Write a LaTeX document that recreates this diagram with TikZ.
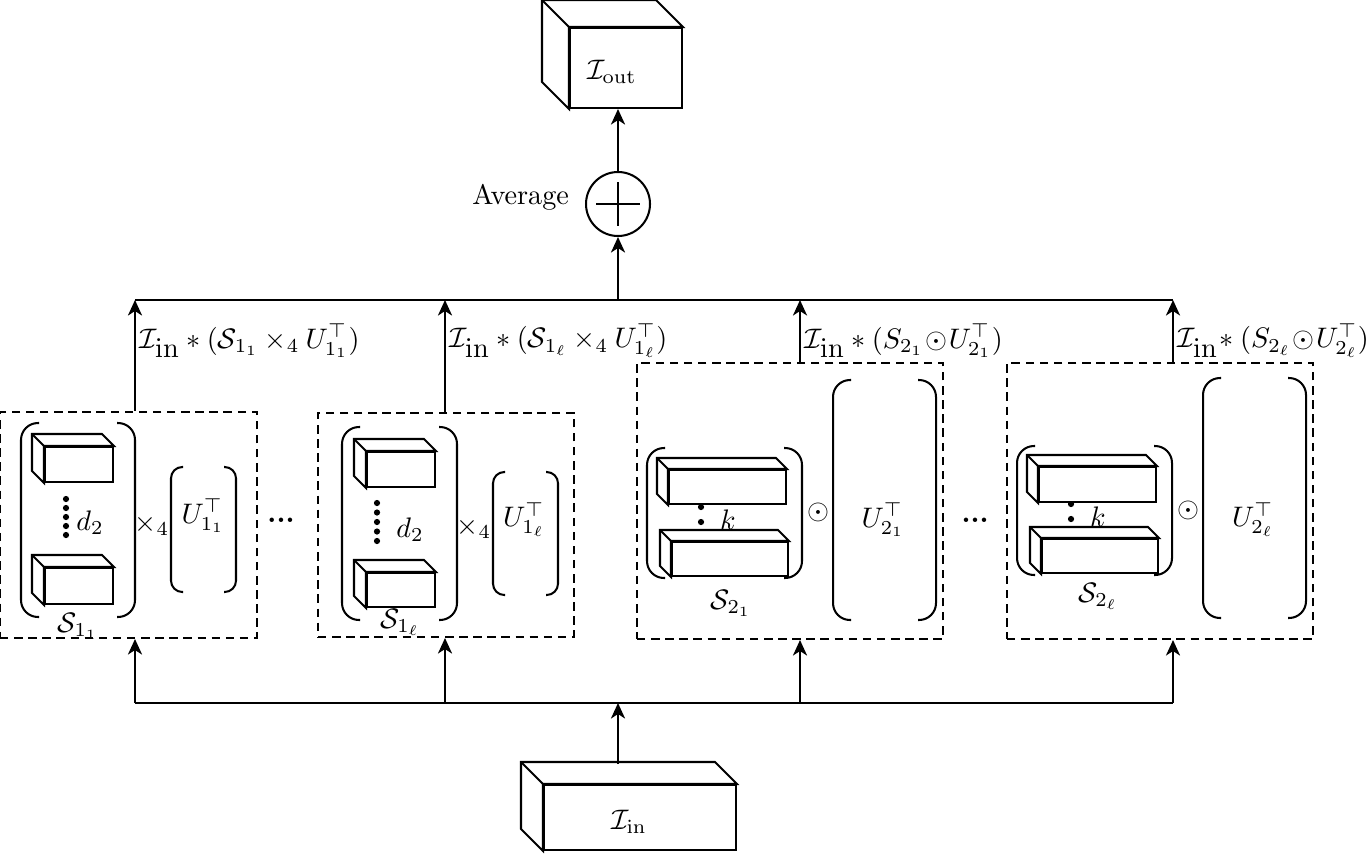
\documentclass[tikz,border=0pt]{standalone}
\usepackage{amsmath,amssymb}
\usetikzlibrary{arrows.meta,calc}

\newcommand{\px}{0.01245cm}
% side and top faces behind a front face node: #1 node, #2 depth
\newcommand{\cubeback}[2]{%
	\filldraw[fill=white] (#1.south west) -- ++(-#2,-#2) |- ($(#1.north east)+(-#2,-#2)$)
		-- (#1.north east) -- (#1.north west) -- cycle;
	\draw (#1.north west) -- ++(-#2,-#2);}
% round brackets: left x, right x, top y, bottom y, arm, corner
\newcommand{\brackets}[6]{%
	\draw[rounded corners=#6] (#1+#5,#3) -- (#1,#3) -- (#1,#4) -- (#1+#5,#4);
	\draw[rounded corners=#6] (#2-#5,#3) -- (#2,#3) -- (#2,#4) -- (#2-#5,#4);}

\begin{document}
\begin{tikzpicture}[x=\px, y=-\px, line width=0.72pt,
		>={Stealth[length=5.5pt,width=5pt,inset=1.6pt]},
		face/.style 2 args={draw, fill=white, inner sep=0pt, minimum width=#1*\px, minimum height=#2*\px},
		grp/.style 2 args={draw, dash pattern=on 3pt off 2pt, inner sep=0pt, minimum width=#1*\px, minimum height=#2*\px},
		lbl/.style={anchor=west, inner sep=1pt}]
	\useasboundingbox (0,0) rectangle (1372,864);

	% --- output and average ---
	\node[face={112}{80}] (out) at (626,68) {};
	\cubeback{out}{27}
	\node (outlbl) at (612,72) {$\mathcal{I}_{\mathrm{out}}$};
	\node[draw, circle, inner sep=0pt, minimum size=64*\px] (avg) at (618,204) {};
	\draw ($(avg.center)+(-22,0)$) -- ($(avg.center)+(22,0)$)
		($(avg.center)+(0,-22)$) -- ($(avg.center)+(0,22)$);
	\node[anchor=east, inner sep=0pt] (avglbl) at (570,197) {Average};
	\draw[->] (avg.north) -- (avg.north |- out.south);

	% buses
	\coordinate (tA) at (135,300); \coordinate (tB) at (445,300);
	\coordinate (tM) at (618,300); \coordinate (tC) at (800,300);
	\coordinate (tD) at (1173,300);
	\coordinate (bA) at (135,703); \coordinate (bB) at (445,703);
	\coordinate (bM) at (618,703); \coordinate (bC) at (800,703);
	\coordinate (bD) at (1173,703);
	\draw (tA) -- (tD);
	\draw (bA) -- (bD);
	\draw[->] (tM) -- (avg.south);

	% --- S_{1_1} x_4 U ---
	\begin{scope}[shift={(0,412)}]
		\node[grp={257}{226}] (boxA) at (128.5,113) {};
		\brackets{21}{135}{11}{205}{18}{6pt}
		\node[face={68}{35}] (a1) at (79,52.5) {}; \cubeback{a1}{12}
		\node[face={68}{36}] (a2) at (79,174) {}; \cubeback{a2}{12}
		\foreach \i in {0,...,4} \fill (66,87+9*\i) circle (1.1pt);
		\node (dA) at (90,111) {$d_2$};
		\node (xA) at (152,113) {$\times_4$};
		\brackets{171}{236}{55}{180}{12}{4pt}
		\node (uA) at (203,104) {$U_{1_1}^{\top}$};
		\node (sA) at (78,214) {$\mathcal{S}_{1_1}$};
	\end{scope}
	\node (dots1) at (281,520) {\textbf{...}};

	% --- S_{1_l} x_4 U ---
	\begin{scope}[shift={(318,413)}]
		\node[grp={256}{224}] (boxB) at (128,112) {};
		\brackets{24}{139}{14}{207}{18}{6pt}
		\node[face={68}{35}] (b1) at (83,56.5) {}; \cubeback{b1}{12}
		\node[face={68}{34}] (b2) at (83,177) {}; \cubeback{b2}{12}
		\foreach \i in {0,...,4} \fill (59,90+9.5*\i) circle (1.1pt);
		\node (dB) at (92,117) {$d_2$};
		\node (xB) at (156,115) {$\times_4$};
		\brackets{175}{240}{59}{182}{12}{4pt}
		\node (uB) at (206,107) {$U_{1_\ell}^{\top}$};
		\node (sB) at (82,209) {$\mathcal{S}_{1_\ell}$};
	\end{scope}

	% --- S_{2_1} odot U ---
	\begin{scope}[shift={(637,363)}]
		\node[grp={306}{276}] (boxC) at (153,138) {};
		\brackets{10}{165}{85}{215}{18}{6pt}
		\fill (64,144) circle (1.1pt) (64,159) circle (1.1pt);
		\node (kC) at (91,157) {$k$};
		\node[face={117}{34}] (c1) at (90.5,124) {}; \cubeback{c1}{11}
		\node[face={116}{34}] (c2) at (93,196) {}; \cubeback{c2}{11}
		\node (sC) at (94,240) {$\mathcal{S}_{2_1}$};
		\node (oC) at (181,149) {$\odot$};
		\brackets{196}{299}{17}{257}{18}{6pt}
		\node (uC) at (246,157) {$U_{2_1}^{\top}$};
	\end{scope}
	\node (dots2) at (975,520) {\textbf{...}};

	% --- S_{2_l} odot U ---
	\begin{scope}[shift={(1007,363)}]
		\node[grp={306}{276}] (boxD) at (153,138) {};
		\brackets{10}{165}{83}{212}{18}{6pt}
		\fill (64,141) circle (1.1pt) (64,156) circle (1.1pt);
		\node (kD) at (91,154) {$k$};
		\node[face={117}{35}] (d1) at (90.5,121.5) {}; \cubeback{d1}{11}
		\node[face={116}{34}] (d2) at (93,193) {}; \cubeback{d2}{11}
		\node (sD) at (91,233) {$\mathcal{S}_{2_\ell}$};
		\node (oD) at (181,147) {$\odot$};
		\brackets{196}{299}{15}{255}{18}{6pt}
		\node (uD) at (246,157) {$U_{2_\ell}^{\top}$};
	\end{scope}

	% box outputs to the top bus
	\draw[->] (tA |- boxA.north) -- (tA);
	\draw[->] (tB |- boxB.north) -- (tB);
	\draw[->] (tC |- boxC.north) -- (tC);
	\draw[->] (tD |- boxD.north) -- (tD);
	\node[lbl] (fA) at (136,341) {$\mathcal{I}_{\textstyle\mathrm{in}} * (\mathcal{S}_{1_1} \times_4 U_{1_1}^{\top})$};
	\node[lbl] (fB) at (446,341) {$\mathcal{I}_{\textstyle\mathrm{in}} * (\mathcal{S}_{1_\ell} \times_4 U_{1_\ell}^{\top})$};
	\node[lbl] (fC) at (801,341) {$\mathcal{I}_{\textstyle\mathrm{in}} * (S_{2_1}\!\odot\! U_{2_1}^{\top})$};
	\node[lbl] (fD) at (1174,341) {$\mathcal{I}_{\textstyle\mathrm{in}}\! * (S_{2_\ell}\!\odot\! U_{2_\ell}^{\top})$};

	% bottom bus to the boxes
	\draw[->] (bA) -- (bA |- boxA.south);
	\draw[->] (bB) -- (bB |- boxB.south);
	\draw[->] (bC) -- (bC |- boxC.south);
	\draw[->] (bD) -- (bD |- boxD.south);

	% --- input ---
	\node[face={192}{65}] (in) at (640,817.5) {};
	\cubeback{in}{22}
	\node (inlbl) at (629,822) {$\mathcal{I}_{\mathrm{in}}$};
	\coordinate (intop) at (618,764);
	\draw[->] (intop) -- (bM);
\end{tikzpicture}
\end{document}
